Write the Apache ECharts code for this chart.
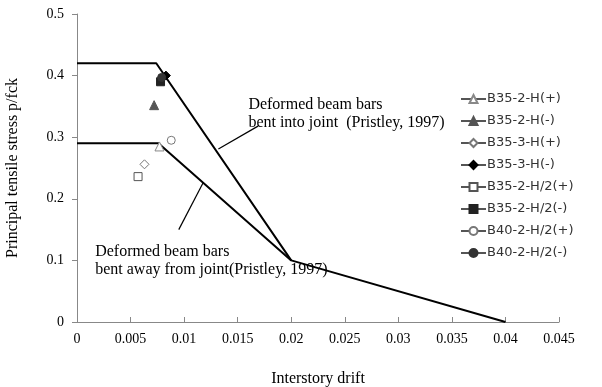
<!DOCTYPE html>
<html>
<head>
<meta charset="utf-8">
<script src="https://cdn.jsdelivr.net/npm/echarts@6/dist/echarts.min.js"></script>
<style>
  html, body { margin: 0; padding: 0; background: #fff; }
  #chart { width: 602px; height: 387px; }
</style>
</head>
<body>
<div id="chart"></div>
<script>
// Axis ticks
const xTicks = [0, 0.005, 0.01, 0.015, 0.02, 0.025, 0.03, 0.035, 0.04, 0.045];
const yTicks = [0, 0.1, 0.2, 0.3, 0.4, 0.5];

// Priestley (1997) limit curves: [drift, p/fck]
const bentInto = [[0, 0.42], [0.0074, 0.42], [0.02, 0.1], [0.04, 0]];
const bentAway = [[0, 0.29], [0.0076, 0.29], [0.02, 0.1]];

// Test specimens: name, drift, p/fck
const specimenNames = ['B35-2-H(+)', 'B35-2-H(-)', 'B35-3-H(+)', 'B35-3-H(-)',
                       'B35-2-H/2(+)', 'B35-2-H/2(-)', 'B40-2-H/2(+)', 'B40-2-H/2(-)'];
const specimenDrift = [0.0077, 0.0072, 0.0063, 0.0083, 0.0057, 0.0078, 0.0088, 0.0079];
const specimenStress = [0.285, 0.352, 0.256, 0.400, 0.236, 0.390, 0.295, 0.397];

// Leader lines for the curve notes
const leaderInto = [[0.0132, 0.281], [0.0169, 0.318]];
const leaderAway = [[0.0118, 0.227], [0.0095, 0.150]];

// Note texts and anchors (data space, top-left of the text block)
const noteInto = ['Deformed beam bars', 'bent into joint  (Pristley, 1997)'];
const noteIntoAt = [0.0160, 0.367];
const noteAway = ['Deformed beam bars', 'bent away from joint(Pristley, 1997)'];
const noteAwayAt = [0.0017, 0.128];

const markerStyle = [
  { symbol: 'triangle', size: 9, fill: '#fff', stroke: '#888' },
  { symbol: 'triangle', size: 9, fill: '#555', stroke: '#555' },
  { symbol: 'diamond', size: 9, fill: '#fff', stroke: '#777' },
  { symbol: 'diamond', size: 9, fill: '#000', stroke: '#000' },
  { symbol: 'rect', size: 8, fill: '#fff', stroke: '#555' },
  { symbol: 'rect', size: 8, fill: '#222', stroke: '#222' },
  { symbol: 'circle', size: 8, fill: '#fff', stroke: '#777' },
  { symbol: 'circle', size: 8, fill: '#333', stroke: '#333' }
];

const serif = '"Liberation Serif", "Times New Roman", serif';
const sans = '"DejaVu Sans", sans-serif';

const chart = echarts.init(document.getElementById('chart'), null, { renderer: 'canvas' });

const fmt = v => String(+v.toFixed(3));

const series = [
  {
    type: 'line', name: 'into', data: bentInto, symbol: 'none', silent: true,
    lineStyle: { color: '#000', width: 2 }, z: 2
  },
  {
    type: 'line', name: 'away', data: bentAway, symbol: 'none', silent: true,
    lineStyle: { color: '#000', width: 2 }, z: 2
  },
  {
    type: 'line', name: 'leaderInto', data: leaderInto, symbol: 'none', silent: true,
    lineStyle: { color: '#000', width: 1.2 }, z: 2
  },
  {
    type: 'line', name: 'leaderAway', data: leaderAway, symbol: 'none', silent: true,
    lineStyle: { color: '#000', width: 1.2 }, z: 2
  }
];

specimenNames.forEach((name, i) => {
  const m = markerStyle[i];
  series.push({
    type: 'line',
    name: name,
    data: [[specimenDrift[i], specimenStress[i]]],
    symbol: m.symbol,
    symbolSize: m.size,
    showSymbol: true,
    lineStyle: { color: '#555', width: 1 },
    itemStyle: { color: m.fill, borderColor: m.stroke, borderWidth: 1 },
    z: 3 + i
  });
});

chart.setOption({
  animation: false,
  backgroundColor: '#fff',
  grid: { left: 77, top: 14, width: 482, height: 308, outerBoundsMode: 'none', containLabel: false },
  xAxis: {
    type: 'value', min: 0, max: 0.045, interval: 0.005,
    name: 'Interstory drift', nameLocation: 'middle', nameGap: 49,
    nameTextStyle: { fontFamily: serif, fontSize: 16, color: '#000' },
    axisLine: { show: true, onZero: false, lineStyle: { color: '#888', width: 1 } },
    axisTick: { show: true, inside: true, length: 5, lineStyle: { color: '#888' } },
    axisLabel: { formatter: fmt, fontFamily: serif, fontSize: 14, color: '#000', margin: 10 },
    splitLine: { show: false }
  },
  yAxis: {
    type: 'value', min: 0, max: 0.5, interval: 0.1,
    name: 'Principal tensile stress p/fck', nameLocation: 'middle', nameGap: 56,
    nameTextStyle: { fontFamily: serif, fontSize: 16, color: '#000' },
    axisLine: { show: true, lineStyle: { color: '#888', width: 1 } },
    axisTick: { show: true, length: 5, lineStyle: { color: '#888' } },
    axisLabel: { formatter: fmt, fontFamily: serif, fontSize: 14, color: '#000', margin: 13 },
    splitLine: { show: false }
  },
  legend: {
    orient: 'vertical', left: 455, top: 87,
    data: specimenNames,
    itemWidth: 25, itemHeight: 10, itemGap: 8,
    textStyle: { fontFamily: sans, fontSize: 13, lineHeight: 14, color: '#333', padding: [0, 0, 0, -4] },
    selectedMode: false
  },
  series: series
});

// Curve notes placed from data coordinates
function noteGraphic(lines, at, id) {
  const p = chart.convertToPixel({ gridIndex: 0 }, at);
  return {
    type: 'text', id: id, x: p[0], y: p[1],
    style: {
      text: lines.join('\n'), fill: '#000', font: '16px ' + serif,
      lineHeight: 18, verticalAlign: 'top'
    },
    z: 10
  };
}
chart.setOption({
  graphic: [
    noteGraphic(noteInto, noteIntoAt, 'noteInto'),
    noteGraphic(noteAway, noteAwayAt, 'noteAway')
  ]
});
</script>
</body>
</html>
